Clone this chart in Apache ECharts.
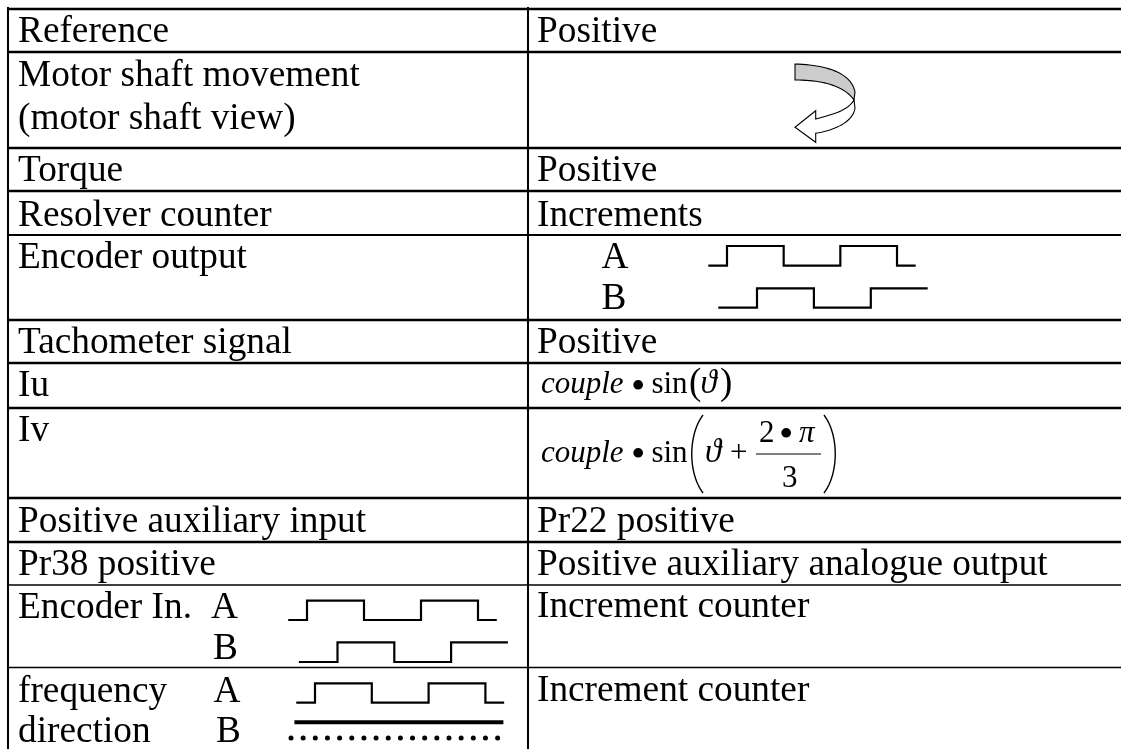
<!DOCTYPE html>
<html><head><meta charset="utf-8">
<style>html,body{margin:0;padding:0;background:#fff}#c{width:1121px;height:749px}</style>
<script src="https://cdn.jsdelivr.net/npm/echarts@6/dist/echarts.min.js"></script>
</head><body><div id="c"></div>
<script>
// ---- content ----
const leftLabels = ['Reference','Motor shaft movement','(motor shaft view)','Torque','Resolver counter','Encoder output','Tachometer signal','Iu','Iv','Positive auxiliary input','Pr38 positive','Encoder In.','A','B','frequency','A','direction','B'];
const rightLabels = ['Positive','Positive','Increments','Positive','Pr22 positive','Positive auxiliary analogue output','Increment counter','Increment counter'];
const encoderLetters = ['A','B'];
// signal edges, in half-periods from the first rising edge
const traceATime = [-0.33,0,0,1,1,2,2,3,3,3.33];
const traceALevel = [0,0,1,1,0,0,1,1,0,0];
const traceBTime = [-0.68,0,0,1,1,2,2,3];
const traceBLevel = [0,0,1,1,0,0,1,1];
const directionHighTime = [0,1];
const directionHighLevel = [1,1];
const directionDotIndex = [0,1,2,3,4,5,6,7,8,9,10,11,12,13,14,15,16,17];

// ---- layout ----
const W = 1121, H = 749, F = 37.3, MF = 31;
const font = "'Liberation Serif','Times New Roman',serif";
const leftXY = [[18,42],[18,86],[18,129],[18,181],[18,226],[18,268],[18,353],[18,396],[18,441],[18,532],[18,575],[18,618],[211,618],[213,659],[18,702],[213.5,702],[18,742],[216,742]];
const rightXY = [[537,42],[537,181],[537,226],[537,353],[537,532],[537,575],[537,617],[537,701]];
const letterXY = [[601.6,268],[601.6,309]];
const hRules = [[9,2.4],[52,2.4],[148,2.4],[191,2.4],[235,2],[320,2.4],[363,2.4],[408,2.4],[498,2.4],[542,2.4],[585,1.4],[667.5,1.6]];
const vRules = [[8,7],[528,7]];
const mathText = [
 ['couple',541,393,'italic',MF],['•',631,398.6,'normal',41],['sin',651.4,393,'normal',MF],['ϑ',700.5,393,'italic',MF+2],
 ['(',689,394,'normal',MF+6],[')',720,394,'normal',MF+6],
 ['couple',541,461.7,'italic',MF],['•',631,466.2,'normal',41],['sin',651.4,461.7,'normal',MF],['ϑ',705,461.7,'italic',MF+2],['+',730,461.7,'normal',MF],
 ['2',759,441.7,'normal',MF],['•',779,446.2,'normal',41],['π',799,441.7,'italic',MF],['3',782,487,'normal',MF]
];
const traceLayouts = [
 {t:traceATime,l:traceALevel,t0:727,unit:56.67,top:246,h:19.7},
 {t:traceBTime,l:traceBLevel,t0:757,unit:56.9,top:288.3,h:19.4},
 {t:traceATime,l:traceALevel,t0:307,unit:57,top:600.7,h:19.3},
 {t:traceBTime,l:traceBLevel,t0:337.5,unit:56.8,top:642.3,h:19.7},
 {t:traceATime,l:traceALevel,t0:315,unit:56.8,top:683.3,h:19.4}
];

function bez(p0,c1,c2,p1,n){const r=[];for(let i=0;i<=n;i++){const t=i/n,u=1-t;
 r.push([u*u*u*p0[0]+3*u*u*t*c1[0]+3*u*t*t*c2[0]+t*t*t*p1[0],u*u*u*p0[1]+3*u*u*t*c1[1]+3*u*t*t*c2[1]+t*t*t*p1[1]]);}return r;}
const bandPts = [...bez([795,64],[825,65],[851,72],[855,92],24),...bez([854,100],[845,87],[825,80],[795,80],24)];
const arrowPts = [...bez([854,100],[848,110],[835,114],[815.7,119],20),[815.7,110.7],[795,127.3],[815.7,142.3],[815.7,133.3],...bez([815.7,133.3],[835,130],[853,122],[855,108],20)];
const parenShapes = [
 bez([703,415],[688,435],[688,473],[703,493],24),
 bez([824,415],[839,435],[839,473],[824,493],24)
];
const fractionBar = [[756,454],[821,454]];

const textItems = [];
leftLabels.forEach((s,i)=>textItems.push({s,x:leftXY[i][0],y:leftXY[i][1],st:'normal',f:F}));
rightLabels.forEach((s,i)=>textItems.push({s,x:rightXY[i][0],y:rightXY[i][1],st:'normal',f:F}));
encoderLetters.forEach((s,i)=>textItems.push({s,x:letterXY[i][0],y:letterXY[i][1],st:'normal',f:F}));
mathText.forEach(m=>textItems.push({s:m[0],x:m[1],y:m[2],st:m[3],f:m[4]}));

const ruleItems = [];
hRules.forEach(r=>ruleItems.push([[8,r[0]],[W,r[0]],r[1]]));
vRules.forEach(r=>ruleItems.push([[r[0],r[1]],[r[0],H],2]));
ruleItems.push([fractionBar[0],fractionBar[1],1.2]);

const grids=[{left:0,top:0,width:W,height:H}];
const xAxes=[{type:'value',min:0,max:W,show:false,gridIndex:0}];
const yAxes=[{type:'value',min:0,max:H,inverse:true,show:false,gridIndex:0}];
const series=[
 {type:'custom',coordinateSystem:'cartesian2d',xAxisIndex:0,yAxisIndex:0,clip:false,silent:true,
  data:ruleItems.map((r,i)=>[i]),
  renderItem(p,api){const r=ruleItems[api.value(0)];const a=api.coord(r[0]),b=api.coord(r[1]);
   return {type:'line',shape:{x1:a[0],y1:a[1],x2:b[0],y2:b[1]},style:{stroke:'#000',lineWidth:r[2]}};}},
 {type:'custom',coordinateSystem:'cartesian2d',xAxisIndex:0,yAxisIndex:0,clip:false,silent:true,
  data:parenShapes.map((r,i)=>[i]),
  renderItem(p,api){const pts=parenShapes[api.value(0)].map(q=>api.coord(q));
   return {type:'polyline',shape:{points:pts},style:{stroke:'#000',fill:'none',lineWidth:1.4}};}},
 {type:'custom',coordinateSystem:'cartesian2d',xAxisIndex:0,yAxisIndex:0,clip:false,silent:true,
  data:[[0],[1]],
  renderItem(p,api){const i=api.value(0);const pts=(i?arrowPts:bandPts).map(q=>api.coord(q));
   return {type:'polygon',shape:{points:pts},style:{fill:i?'#fff':'#cccccc',stroke:'#000',lineWidth:1.1}};}},
 {type:'custom',coordinateSystem:'cartesian2d',xAxisIndex:0,yAxisIndex:0,clip:false,silent:true,
  data:textItems.map((r,i)=>[i]),
  renderItem(p,api){const t=textItems[api.value(0)];const c=api.coord([t.x,t.y]);
   return {type:'text',style:{x:c[0],y:c[1]-t.f*0.25,text:t.s,fill:'#000',font:t.st+' '+t.f+'px '+font,verticalAlign:'middle',align:'left'}};}}
];
traceLayouts.forEach((w,i)=>{
 const tmin=w.t[0],tmax=w.t[w.t.length-1];
 grids.push({left:w.t0+tmin*w.unit,top:w.top,width:(tmax-tmin)*w.unit,height:w.h});
 xAxes.push({type:'value',min:tmin,max:tmax,show:false,gridIndex:i+1});
 yAxes.push({type:'value',min:0,max:1,show:false,gridIndex:i+1});
 series.push({type:'line',xAxisIndex:i+1,yAxisIndex:i+1,clip:false,silent:true,showSymbol:false,symbol:'none',
  data:w.t.map((v,k)=>[v,w.l[k]]),lineStyle:{color:'#000',width:2.2,join:'miter',cap:'butt'}});
});
// direction line
let gi=grids.length;
grids.push({left:294.4,top:721.7,width:209,height:1});
xAxes.push({type:'value',min:0,max:1,show:false,gridIndex:gi});
yAxes.push({type:'value',min:0,max:2,show:false,gridIndex:gi});
series.push({type:'line',xAxisIndex:gi,yAxisIndex:gi,clip:false,silent:true,symbol:'none',showSymbol:false,
 data:directionHighTime.map((v,k)=>[v,directionHighLevel[k]]),lineStyle:{color:'#000',width:4}});
gi=grids.length;
grids.push({left:291,top:737.5,width:206.6,height:1});
xAxes.push({type:'value',min:0,max:17,show:false,gridIndex:gi});
yAxes.push({type:'value',min:0,max:2,show:false,gridIndex:gi});
series.push({type:'scatter',xAxisIndex:gi,yAxisIndex:gi,clip:false,silent:true,symbol:'circle',symbolSize:5,
 itemStyle:{color:'#000',opacity:1},data:directionDotIndex.map(v=>[v,1])});

const chart=echarts.init(document.getElementById('c'),null,{renderer:'canvas',width:W,height:H});
chart.setOption({animation:false,backgroundColor:'#fff',tooltip:{show:false},legend:{show:false},grid:grids,xAxis:xAxes,yAxis:yAxes,series});
</script></body></html>
